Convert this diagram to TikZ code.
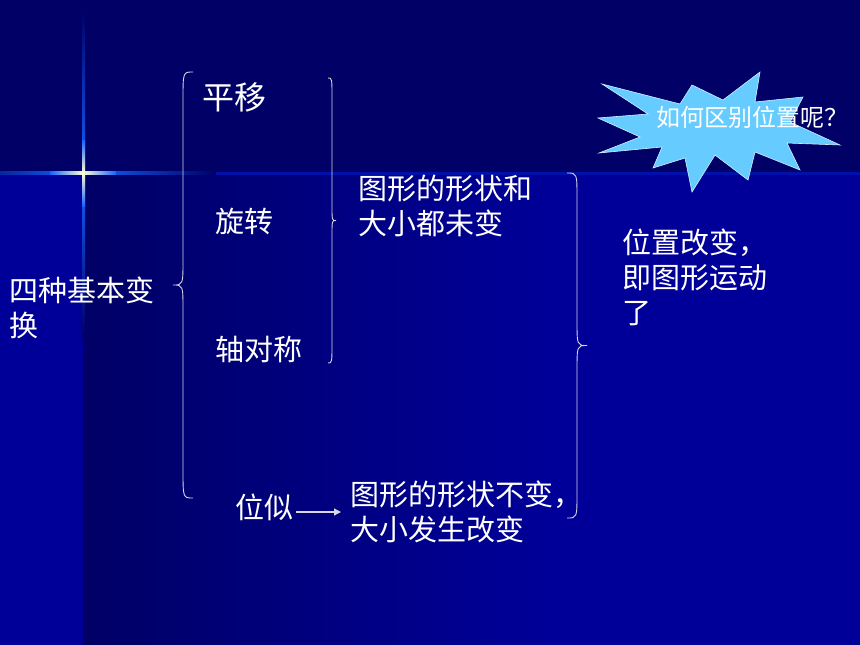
\documentclass[tikz,border=0pt]{standalone}
\usepackage{fontspec}
\newfontfamily\cjk{Noto Sans CJK SC}
\usetikzlibrary{arrows.meta}

\definecolor{navy}{RGB}{0,0,102}
\definecolor{slideblue}{RGB}{0,0,153}
\definecolor{bandline}{RGB}{0,16,170}
\definecolor{glowblue}{RGB}{20,100,255}
\definecolor{starblue}{RGB}{102,204,255}
\definecolor{bracegray}{RGB}{215,215,230}

\begin{document}
\begin{tikzpicture}[x=1pt, y=-1pt, >=Stealth,
    every node/.style={text=white, inner sep=0pt},
    txt/.style={font=\cjk\fontsize{29}{35}\selectfont, align=left},
    bigtxt/.style={font=\cjk\fontsize{32}{38}\selectfont},
    startxt/.style={font=\cjk\fontsize{24}{28}\selectfont},
    bracket/.style={draw=bracegray, line width=0.9pt},
    arr/.style={-{Triangle[length=7pt, width=7pt]}, draw=bracegray, fill=bracegray,
      line width=1.2pt, shorten <=3pt, shorten >=9pt}]
    \useasboundingbox (0,0) rectangle (860,645);

    % Background
    \fill[slideblue] (0,0) rectangle (860,645);
    \shade[left color=navy, right color=slideblue] (83,174) rectangle (560,645);
    \fill[navy] (0,0) rectangle (860,174);
    \fill[bandline] (0,172) rectangle (860,174.5);

    % Light cross
    \begin{scope}
      \clip (0,0) rectangle (860,645);
      \shade[left color=navy, right color=navy, middle color=glowblue] (-50,171.5) rectangle (216,174.5);
      \shade[left color=glowblue, right color=glowblue, middle color=white!85!yellow] (50,171.5) rectangle (116,174.5);
      \shade[top color=navy, bottom color=navy, middle color=glowblue] (82,10) rectangle (85,336);
      \shade[top color=glowblue, bottom color=glowblue, middle color=white!85!yellow] (82,140) rectangle (85,206);
    \end{scope}

    % Star
    \filldraw[fill=starblue, draw=white!70!starblue, line width=0.6pt]
      (602,84) -- (680,104) -- (692,85) -- (723,100) -- (760,72) -- (755,102)
      -- (803,97) -- (790,122) -- (840,145) -- (787,143) -- (800,170) -- (755,152)
      -- (748,180) -- (715,155) -- (692,192) -- (685,158) -- (653,168) -- (662,147)
      -- (599,153) -- (640,137) -- (598,118) -- (648,114) -- cycle;
    \node[startxt, anchor=west] (question) at (656,117) {如何区别位置呢？};

    % Texts
    \node[txt, anchor=west] (four) at (9,307.5) {四种基本变\\换};
    \node[bigtxt, anchor=west] (translate) at (202,97) {平移};
    \node[txt, anchor=west] (rotate) at (215,221) {旋转};
    \node[txt, anchor=west] (reflect) at (215,349) {轴对称};
    \node[txt, anchor=west] (unchanged) at (358,205.5) {图形的形状和\\大小都未变};
    \node[txt, anchor=west] (moved) at (622,277) {位置改变，\\即图形运动\\了};
    \node[txt, anchor=west] (weisi) at (235,507) {位似};
    \node[txt, anchor=west] (change) at (350,511.5) {图形的形状不变，\\大小发生改变};

    % Braces
    \draw[bracket] (193,72) .. controls (183,72) .. (183,100) -- (183,260)
      .. controls (183,285) .. (173,285) .. controls (183,285) .. (183,310)
      -- (183,470) .. controls (183,498) .. (193,498);
    \draw[bracket] (328,78) .. controls (332,78) .. (332,98) -- (332,206)
      .. controls (332,220.5) .. (336,220.5) .. controls (332,220.5) .. (332,235)
      -- (332,343) .. controls (332,363) .. (328,363);
    \draw[bracket] (567,173) .. controls (577,173) .. (577,198) -- (577,320)
      .. controls (577,345.5) .. (587,345.5) .. controls (577,345.5) .. (577,371)
      -- (577,493) .. controls (577,518) .. (567,518);

    % Arrow
    \coordinate (arrstart) at ([yshift=-5pt]weisi.east);
    \draw[arr] (arrstart) -- (arrstart -| change.west);
\end{tikzpicture}
\end{document}
